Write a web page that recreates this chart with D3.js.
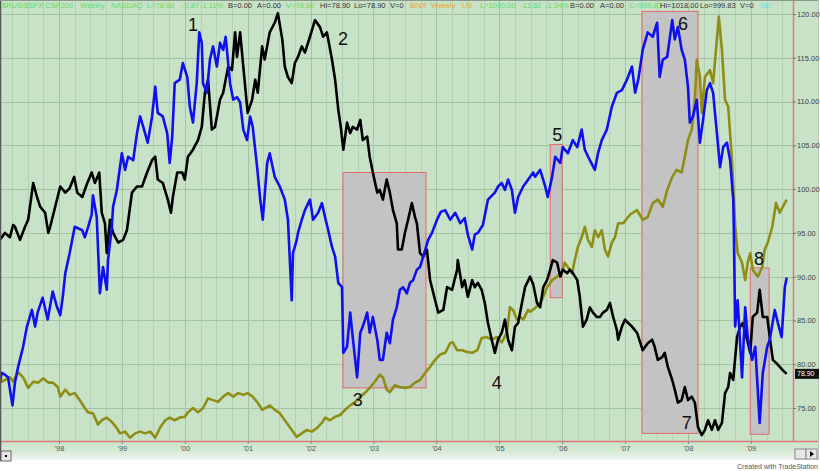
<!DOCTYPE html>
<html><head><meta charset="utf-8">
<script src="https://cdn.jsdelivr.net/npm/d3@7"></script>
<style>
html,body{margin:0;padding:0;background:#fff;}
svg{display:block;font-family:"Liberation Sans",Arial,sans-serif;}
</style></head>
<body><svg id="c" width="820" height="471"></svg>
<script>
// ---------- DATA (decimal year, value) ----------
const yearTicks = [1998,1999,2000,2001,2002,2003,2004,2005,2006,2007,2008,2009];
const valueTicks = [75,80,85,90,95,100,105,110,115,120];
const lastValue = 78.90;

const blueSeries = [
[1997.06,77.9],[1997.09,79.0],[1997.14,78.8],[1997.19,78.5],[1997.26,75.3],[1997.30,77.9],[1997.35,79.7],[1997.43,82.0],
[1997.49,84.3],[1997.57,86.2],[1997.62,84.3],[1997.66,85.9],[1997.74,87.6],[1997.82,85.1],[1997.90,88.3],[1997.97,86.5],
[1998.02,85.6],[1998.06,87.7],[1998.10,90.4],[1998.17,92.7],[1998.25,95.7],[1998.37,95.3],[1998.41,94.5],[1998.46,95.6],
[1998.52,97.1],[1998.54,99.3],[1998.60,96.8],[1998.65,88.1],[1998.70,91.1],[1998.76,88.5],[1998.78,91.9],[1998.84,95.7],
[1998.86,98.0],[1998.92,99.9],[1999.00,104.1],[1999.05,102.2],[1999.10,103.7],[1999.18,103.3],[1999.24,106.4],[1999.29,108.3],
[1999.34,107.1],[1999.41,105.3],[1999.48,108.3],[1999.53,111.7],[1999.57,108.7],[1999.65,108.3],[1999.72,106.4],[1999.76,103.0],
[1999.80,106.0],[1999.84,112.1],[1999.92,112.5],[1999.97,114.4],[2000.04,112.8],[2000.08,109.4],[2000.13,107.6],[2000.19,112.1],
[2000.23,117.9],[2000.27,116.7],[2000.29,112.1],[2000.35,111.0],[2000.40,114.8],[2000.45,116.3],[2000.51,114.0],[2000.56,116.7],
[2000.61,115.9],[2000.65,117.4],[2000.72,112.1],[2000.77,110.2],[2000.83,110.5],[2000.88,109.9],[2000.93,106.8],[2000.99,105.6],
[2001.04,108.3],[2001.08,107.1],[2001.15,102.5],[2001.20,98.8],[2001.24,96.5],[2001.31,103.0],[2001.35,104.1],[2001.43,101.4],
[2001.51,100.3],[2001.59,98.8],[2001.64,96.5],[2001.70,87.3],[2001.72,92.7],[2001.78,94.2],[2001.80,95.0],[2001.86,96.5],
[2001.91,97.6],[2001.99,98.8],[2002.04,96.5],[2002.12,97.3],[2002.18,98.4],[2002.23,96.8],[2002.28,95.3],[2002.34,93.4],
[2002.39,92.3],[2002.44,89.3],[2002.50,88.8],[2002.52,81.3],[2002.58,82.0],[2002.63,85.9],[2002.67,83.1],[2002.74,78.5],
[2002.79,83.6],[2002.83,84.3],[2002.90,85.9],[2002.94,83.6],[2002.99,85.4],[2003.06,82.8],[2003.10,80.5],[2003.15,80.5],
[2003.21,83.6],[2003.26,82.4],[2003.31,85.1],[2003.37,86.5],[2003.42,88.5],[2003.47,88.8],[2003.53,88.1],[2003.58,89.3],
[2003.63,89.6],[2003.69,90.8],[2003.74,91.1],[2003.79,92.3],[2003.87,94.2],[2003.93,95.0],[2004.01,96.5],[2004.07,97.4],
[2004.14,97.6],[2004.22,96.5],[2004.30,97.3],[2004.38,96.1],[2004.45,96.7],[2004.50,94.8],[2004.57,93.1],[2004.61,94.8],
[2004.66,95.0],[2004.74,95.9],[2004.82,98.8],[2004.93,99.6],[2004.98,100.3],[2005.04,100.7],[2005.09,99.9],[2005.14,101.1],
[2005.20,99.9],[2005.25,97.3],[2005.30,99.1],[2005.38,100.3],[2005.46,101.1],[2005.54,101.9],[2005.57,101.4],[2005.65,102.2],
[2005.73,100.3],[2005.77,99.1],[2005.84,101.4],[2005.89,103.7],[2005.97,103.0],[2006.01,104.8],[2006.09,104.1],[2006.17,105.6],
[2006.24,104.8],[2006.31,106.8],[2006.36,104.5],[2006.44,103.3],[2006.52,102.2],[2006.57,104.1],[2006.63,105.6],[2006.71,106.8],
[2006.79,109.4],[2006.87,111.0],[2006.95,111.3],[2007.03,112.5],[2007.11,114.0],[2007.16,111.0],[2007.21,112.5],[2007.28,115.9],
[2007.36,117.9],[2007.44,117.4],[2007.51,119.0],[2007.55,112.8],[2007.60,114.8],[2007.67,115.1],[2007.75,119.3],[2007.79,117.1],
[2007.84,118.5],[2007.90,115.9],[2007.95,114.8],[2008.00,111.7],[2008.03,107.6],[2008.08,108.3],[2008.14,110.2],[2008.19,105.3],
[2008.24,107.9],[2008.30,111.3],[2008.35,112.1],[2008.40,111.0],[2008.46,106.4],[2008.51,102.5],[2008.56,104.8],[2008.62,105.3],
[2008.67,103.3],[2008.72,98.8],[2008.73,95.3],[2008.75,84.3],[2008.79,87.3],[2008.86,78.5],[2008.91,86.5],[2008.95,83.1],
[2009.02,80.5],[2009.07,82.0],[2009.14,73.3],[2009.19,79.0],[2009.26,82.0],[2009.30,82.8],[2009.38,86.2],[2009.43,84.7],
[2009.49,83.1],[2009.54,88.8],[2009.57,89.9]
];

const blackSeries = [
[1997.06,94.2],[1997.14,95.0],[1997.22,94.5],[1997.27,95.9],[1997.30,95.7],[1997.38,94.2],[1997.46,95.7],[1997.51,96.5],
[1997.59,100.7],[1997.65,99.1],[1997.70,98.0],[1997.78,97.3],[1997.83,95.0],[1997.86,95.7],[1997.94,98.0],[1998.02,100.3],
[1998.10,99.6],[1998.17,100.1],[1998.24,101.4],[1998.29,99.6],[1998.37,99.1],[1998.45,100.7],[1998.52,101.9],[1998.57,100.7],
[1998.64,101.9],[1998.68,97.3],[1998.73,96.1],[1998.76,92.7],[1998.81,96.5],[1998.86,95.0],[1998.94,93.9],[1999.02,94.2],
[1999.08,95.3],[1999.16,99.6],[1999.24,100.3],[1999.32,100.3],[1999.40,101.9],[1999.48,103.3],[1999.53,103.7],[1999.57,101.1],
[1999.65,100.7],[1999.73,98.8],[1999.78,97.3],[1999.81,99.1],[1999.88,101.9],[1999.96,101.9],[2000.00,101.1],[2000.05,103.7],
[2000.13,104.5],[2000.21,105.6],[2000.27,107.1],[2000.32,111.0],[2000.37,112.5],[2000.43,106.8],[2000.48,107.1],[2000.56,110.2],
[2000.61,111.0],[2000.69,114.0],[2000.75,113.6],[2000.80,117.9],[2000.83,115.1],[2000.88,117.9],[2000.93,114.0],[2001.00,108.7],
[2001.07,110.2],[2001.12,112.5],[2001.16,111.0],[2001.23,116.3],[2001.27,114.8],[2001.35,117.9],[2001.43,119.0],[2001.48,120.1],
[2001.55,117.1],[2001.59,114.0],[2001.64,112.8],[2001.70,112.1],[2001.75,114.4],[2001.80,115.1],[2001.86,116.3],[2001.91,115.6],
[2001.99,117.4],[2002.07,119.3],[2002.15,118.5],[2002.20,117.4],[2002.26,117.9],[2002.34,114.8],[2002.39,112.5],[2002.44,109.1],
[2002.48,107.1],[2002.52,104.5],[2002.58,107.6],[2002.63,106.4],[2002.67,107.1],[2002.74,106.8],[2002.79,107.9],[2002.83,105.6],
[2002.90,106.0],[2002.94,103.7],[2002.99,101.9],[2003.06,99.6],[2003.10,99.9],[2003.15,98.8],[2003.21,101.1],[2003.26,99.6],
[2003.31,97.6],[2003.37,96.1],[2003.39,93.1],[2003.45,93.1],[2003.50,95.0],[2003.55,96.5],[2003.61,98.4],[2003.66,96.8],
[2003.69,96.1],[2003.74,92.7],[2003.79,92.3],[2003.85,93.1],[2003.90,89.6],[2003.98,87.3],[2004.03,85.9],[2004.11,86.2],
[2004.17,88.8],[2004.25,88.5],[2004.33,90.8],[2004.34,91.9],[2004.41,88.8],[2004.45,89.6],[2004.50,87.7],[2004.57,89.6],
[2004.61,88.8],[2004.66,89.3],[2004.72,88.5],[2004.77,87.0],[2004.82,84.7],[2004.88,82.8],[2004.93,81.3],[2004.98,82.8],
[2005.04,83.6],[2005.09,85.1],[2005.14,82.8],[2005.20,81.6],[2005.25,84.3],[2005.30,84.7],[2005.36,87.0],[2005.41,88.8],
[2005.49,90.0],[2005.54,89.1],[2005.60,87.0],[2005.65,86.5],[2005.70,88.8],[2005.76,89.6],[2005.81,90.8],[2005.85,91.9],
[2005.92,91.6],[2005.97,90.0],[2006.01,90.8],[2006.08,90.4],[2006.12,90.8],[2006.17,90.4],[2006.24,89.6],[2006.28,87.7],
[2006.33,84.3],[2006.39,85.1],[2006.44,86.5],[2006.49,85.9],[2006.55,85.4],[2006.60,85.4],[2006.65,85.9],[2006.71,86.2],
[2006.76,87.0],[2006.81,85.4],[2006.87,83.9],[2006.89,82.8],[2006.95,84.3],[2007.00,85.1],[2007.05,84.7],[2007.11,84.3],
[2007.19,83.6],[2007.28,81.6],[2007.36,82.4],[2007.43,82.8],[2007.47,82.0],[2007.52,80.5],[2007.59,80.8],[2007.63,81.3],
[2007.68,79.7],[2007.75,78.2],[2007.79,77.1],[2007.84,75.6],[2007.90,75.9],[2007.95,77.4],[2008.00,75.9],[2008.06,76.3],
[2008.11,75.6],[2008.16,72.8],[2008.22,71.9],[2008.27,72.5],[2008.32,73.6],[2008.38,72.5],[2008.43,73.6],[2008.48,72.5],
[2008.54,73.3],[2008.59,76.7],[2008.64,77.4],[2008.67,79.0],[2008.72,78.2],[2008.78,83.1],[2008.83,84.3],[2008.87,84.7],
[2008.94,82.8],[2008.99,81.3],[2009.03,85.4],[2009.10,85.9],[2009.14,88.5],[2009.19,85.4],[2009.26,85.4],[2009.30,83.1],
[2009.35,80.5],[2009.41,80.1],[2009.46,79.7],[2009.51,79.3],[2009.57,78.9]
];

const oliveSeries = [
[1997.06,77.9],[1997.14,78.2],[1997.22,78.5],[1997.27,78.0],[1997.35,79.1],[1997.43,78.5],[1997.51,77.3],[1997.59,78.0],
[1997.67,77.9],[1997.75,78.4],[1997.83,77.9],[1997.90,77.9],[1997.98,77.4],[1998.02,76.3],[1998.10,77.1],[1998.17,76.5],
[1998.25,76.7],[1998.33,75.9],[1998.41,75.0],[1998.46,74.5],[1998.54,74.4],[1998.62,73.1],[1998.68,73.6],[1998.76,73.9],
[1998.84,73.4],[1998.92,72.7],[1998.97,72.1],[1999.05,72.3],[1999.13,71.6],[1999.21,72.1],[1999.29,72.3],[1999.37,72.1],
[1999.45,72.3],[1999.53,71.6],[1999.61,72.8],[1999.69,73.6],[1999.76,73.9],[1999.84,73.6],[1999.92,73.9],[2000.00,74.0],
[2000.05,74.5],[2000.13,75.0],[2000.21,74.5],[2000.29,75.0],[2000.37,76.1],[2000.45,75.9],[2000.53,75.7],[2000.61,76.3],
[2000.69,76.7],[2000.77,76.3],[2000.85,76.7],[2000.93,76.5],[2001.00,76.7],[2001.08,76.3],[2001.16,75.6],[2001.23,74.8],
[2001.31,75.1],[2001.35,75.3],[2001.43,74.8],[2001.51,74.4],[2001.59,73.6],[2001.67,72.8],[2001.78,71.7],[2001.86,72.1],
[2001.94,72.5],[2002.02,72.3],[2002.10,72.7],[2002.18,73.3],[2002.23,73.9],[2002.31,73.6],[2002.39,74.0],[2002.47,74.2],
[2002.55,74.8],[2002.63,75.3],[2002.71,75.7],[2002.79,76.3],[2002.86,76.7],[2002.94,77.3],[2003.02,78.0],[2003.10,78.8],
[2003.15,78.5],[2003.21,77.1],[2003.26,76.8],[2003.34,77.6],[2003.42,77.4],[2003.50,77.3],[2003.58,77.4],[2003.66,77.9],
[2003.74,78.2],[2003.82,79.0],[2003.90,79.7],[2003.98,80.5],[2004.06,81.1],[2004.14,81.3],[2004.22,82.4],[2004.26,82.5],
[2004.33,81.6],[2004.41,81.6],[2004.49,81.4],[2004.57,81.3],[2004.65,81.6],[2004.72,83.0],[2004.80,83.1],[2004.88,82.8],
[2004.96,83.1],[2005.04,82.5],[2005.12,83.6],[2005.17,86.5],[2005.22,86.2],[2005.28,85.1],[2005.33,85.4],[2005.38,85.1],
[2005.46,86.2],[2005.49,86.0],[2005.57,86.4],[2005.65,87.0],[2005.70,87.7],[2005.76,88.8],[2005.84,89.6],[2005.92,90.0],
[2006.00,90.5],[2006.04,91.6],[2006.09,91.1],[2006.16,90.4],[2006.20,91.9],[2006.25,93.4],[2006.31,94.5],[2006.36,95.7],
[2006.41,94.2],[2006.47,93.4],[2006.52,95.3],[2006.57,94.5],[2006.63,95.3],[2006.68,93.1],[2006.73,92.3],[2006.79,93.9],
[2006.84,94.5],[2006.89,96.1],[2006.97,96.1],[2007.08,97.1],[2007.19,97.6],[2007.28,96.5],[2007.36,96.8],[2007.44,98.4],
[2007.52,98.8],[2007.60,98.0],[2007.67,99.9],[2007.75,101.4],[2007.82,102.2],[2007.90,101.9],[2007.95,103.7],[2008.00,105.6],
[2008.06,106.8],[2008.11,110.2],[2008.14,114.8],[2008.19,112.8],[2008.22,108.7],[2008.27,112.8],[2008.35,113.6],[2008.40,112.1],
[2008.46,117.1],[2008.49,119.7],[2008.54,115.9],[2008.59,110.2],[2008.64,109.4],[2008.70,103.3],[2008.72,100.3],[2008.75,95.9],
[2008.79,92.7],[2008.86,91.6],[2008.91,89.6],[2008.95,91.6],[2008.99,92.7],[2009.03,90.8],[2009.11,90.0],[2009.18,91.1],
[2009.22,93.1],[2009.27,93.9],[2009.34,95.7],[2009.40,98.4],[2009.46,97.3],[2009.51,98.0],[2009.57,98.8]
];

// highlighted zones: [t0, t1, vTop, vBottom]
const zones = [
  [2002.515, 2003.835, 101.9, 77.3],
  [2005.81, 2006.00, 105.1, 87.6],
  [2007.27, 2008.16, 120.3, 72.1],
  [2008.99, 2009.29, 91.0, 72.0]
];
// numbered annotations: [label, t, v]
const notes = [
  ["1",2000.13,118.7],["2",2002.515,117.2],["3",2002.75,75.9],["4",2004.96,77.9],
  ["5",2005.92,106.2],["6",2007.92,118.9],["7",2007.98,73.3],["8",2009.13,92.0]
];

// ---------- DRAW ----------
const svg = d3.select("#c");
const W = 820, H = 471;
const plotR = 793, plotB = 441;
const x = d3.scaleLinear().domain([1997.062, 2009.67]).range([0, plotR]);
const y = d3.scaleLinear().domain([75, 120]).range([408, 14]);
const bg = "#c8e2c8";

svg.append("rect").attr("width", W).attr("height", H).attr("fill", "#fff");
const defs = svg.append("defs");
const g1 = defs.append("linearGradient").attr("id","bot").attr("x1",0).attr("y1",0).attr("x2",0).attr("y2",1);
g1.append("stop").attr("offset","0%").attr("stop-color",bg);
g1.append("stop").attr("offset","55%").attr("stop-color","#d6ead6");
g1.append("stop").attr("offset","100%").attr("stop-color","#f2f4f2");
defs.append("clipPath").attr("id","clip").append("rect").attr("x",1).attr("y",1).attr("width",plotR-1).attr("height",plotB-1);

svg.append("rect").attr("x",0).attr("y",0).attr("width",818).attr("height",plotB).attr("fill",bg);
svg.append("rect").attr("x",0).attr("y",plotB).attr("width",818).attr("height",19).attr("fill","url(#bot)");

// grid
const grid = svg.append("g").attr("clip-path","url(#clip)");
const quarters = d3.range(1997.25, 2009.7, 0.25);
grid.selectAll("line.v").data(quarters).join("line")
  .attr("x1", d => Math.round(x(d)) + 0.5).attr("x2", d => Math.round(x(d)) + 0.5)
  .attr("y1", 0).attr("y2", plotB)
  .attr("stroke", d => Math.abs(d - Math.round(d)) < 0.01 ? "#a3c3a3" : "#b3d1b3").attr("stroke-width", 1);
grid.selectAll("line.h").data(valueTicks).join("line")
  .attr("x1", 0).attr("x2", plotR)
  .attr("y1", d => Math.round(y(d)) + 0.5).attr("y2", d => Math.round(y(d)) + 0.5)
  .attr("stroke", "#a3c3a3").attr("stroke-width", 1);

// zones
const plot = svg.append("g").attr("clip-path","url(#clip)");
plot.selectAll("rect.zone").data(zones).join("rect")
  .attr("x", d => x(d[0])).attr("y", d => y(d[2]))
  .attr("width", d => x(d[1]) - x(d[0])).attr("height", d => y(d[3]) - y(d[2]))
  .attr("fill", "#c3c3c3").attr("stroke", "#e26a6a").attr("stroke-width", 1);

// series
const line = d3.line().x(d => x(d[0])).y(d => y(d[1]));
[[oliveSeries,"#8e8e16"],[blackSeries,"#000000"],[blueSeries,"#1010ee"]].forEach(([s,c]) => {
  plot.append("path").datum(s).attr("d", line).attr("fill","none")
    .attr("stroke", c).attr("stroke-width", 2.6).attr("stroke-linejoin","round");
});

// annotations
svg.selectAll("text.note").data(notes).join("text")
  .attr("x", d => x(d[1])).attr("y", d => y(d[2]))
  .attr("text-anchor","middle").attr("dominant-baseline","central")
  .attr("font-size", 18).attr("fill","#111").text(d => d[0]);

// frame lines
svg.append("line").attr("x1",0).attr("x2",818).attr("y1",plotB+0.5).attr("y2",plotB+0.5).attr("stroke","#e07a7a").attr("stroke-width",1.5);
svg.append("line").attr("x1",plotR+0.5).attr("x2",plotR+0.5).attr("y1",0).attr("y2",plotB).attr("stroke","#e07a7a").attr("stroke-width",1.5);
svg.append("line").attr("x1",0.5).attr("x2",0.5).attr("y1",0).attr("y2",461).attr("stroke","#555").attr("stroke-width",1.5);
svg.append("line").attr("x1",0).attr("x2",818).attr("y1",0.5).attr("y2",0.5).attr("stroke","#8a9a8a").attr("stroke-width",1);
svg.append("line").attr("x1",818.5).attr("x2",818.5).attr("y1",0).attr("y2",460).attr("stroke","#b8c8b8").attr("stroke-width",1);

// axes
const yAxis = svg.append("g").attr("transform",`translate(${plotR},0)`)
  .call(d3.axisRight(y).tickValues(valueTicks).tickFormat(d3.format(".2f")).tickSize(3).tickPadding(1));
yAxis.select(".domain").remove();
yAxis.selectAll("text").attr("font-size",7.5).attr("fill","#444").attr("font-family","Liberation Sans, Arial");
yAxis.selectAll("line").attr("stroke","#777");

const xAxis = svg.append("g").attr("transform",`translate(0,${plotB})`)
  .call(d3.axisBottom(x).tickValues(yearTicks).tickFormat(d => "'" + String(d).slice(2)).tickSize(3).tickPadding(2));
xAxis.select(".domain").remove();
xAxis.selectAll("text").attr("font-size",7.5).attr("fill","#555").attr("font-family","Liberation Sans, Arial");
xAxis.selectAll("line").attr("stroke","#888");

// last value marker
svg.append("rect").attr("x",plotR+2).attr("y",y(lastValue)-5).attr("width",24).attr("height",10).attr("fill","#111");
svg.append("text").attr("x",plotR+4).attr("y",y(lastValue)).attr("dominant-baseline","central")
  .attr("font-size",7).attr("fill","#fff").text(d3.format(".2f")(lastValue));

// header
const header = [
  [2,"$RUS/$SPX CSF200","#64dc64"],[80,"Weekly","#64dc64"],[111,"NASDAQ","#64dc64"],[147,"L=78.90","#64dc64"],
  [182,"-0.87","#64dc64"],[200,"-1.11%","#64dc64"],[228,"B=0.00","#333"],[257,"A=0.00","#333"],
  [286,"V=78.90","#64dc64"],[320,"Hi=78.90","#333"],[354,"Lo=78.90","#333"],[390,"V=0","#333"],
  [410,"$INX","#f0a040"],[431,"Weekly","#f0a040"],[462,"LN","#f0a040"],[480,"L=1000.00","#64dc64"],
  [520,"-13.62","#64dc64"],[545,"-1.34%","#64dc64"],[570,"B=0.00","#333"],[600,"A=0.00","#333"],
  [629,"C=999.83","#64dc64"],[660,"Hi=1018.00","#333"],[700,"Lo=999.83","#333"],[740,"V=0","#333"],[760,"ND","#6ee0e0"]
];
svg.selectAll("text.hdr").data(header).join("text")
  .attr("x", d => d[0]).attr("y", 8).attr("font-size",7.5).attr("fill", d => d[2]).text(d => d[1]);

// bottom widgets
svg.append("rect").attr("x",1).attr("y",451).attr("width",10).attr("height",10).attr("fill","#e6e6e6").attr("stroke","#666");
svg.append("rect").attr("x",5).attr("y",455).attr("width",2).attr("height",2).attr("fill","#000");
svg.append("rect").attr("x",795).attr("y",449).attr("width",11).attr("height",10).attr("fill","#e6e6e6").attr("stroke","#888");
svg.append("rect").attr("x",806).attr("y",449).attr("width",11).attr("height",10).attr("fill","#e6e6e6").attr("stroke","#888");
svg.append("path").attr("d","M810,451 L814,454 L810,457 Z").attr("fill","#000");
svg.append("text").attr("x",818).attr("y",469).attr("text-anchor","end").attr("font-size",7).attr("fill","#555").text("Created with TradeStation");
</script></body></html>
